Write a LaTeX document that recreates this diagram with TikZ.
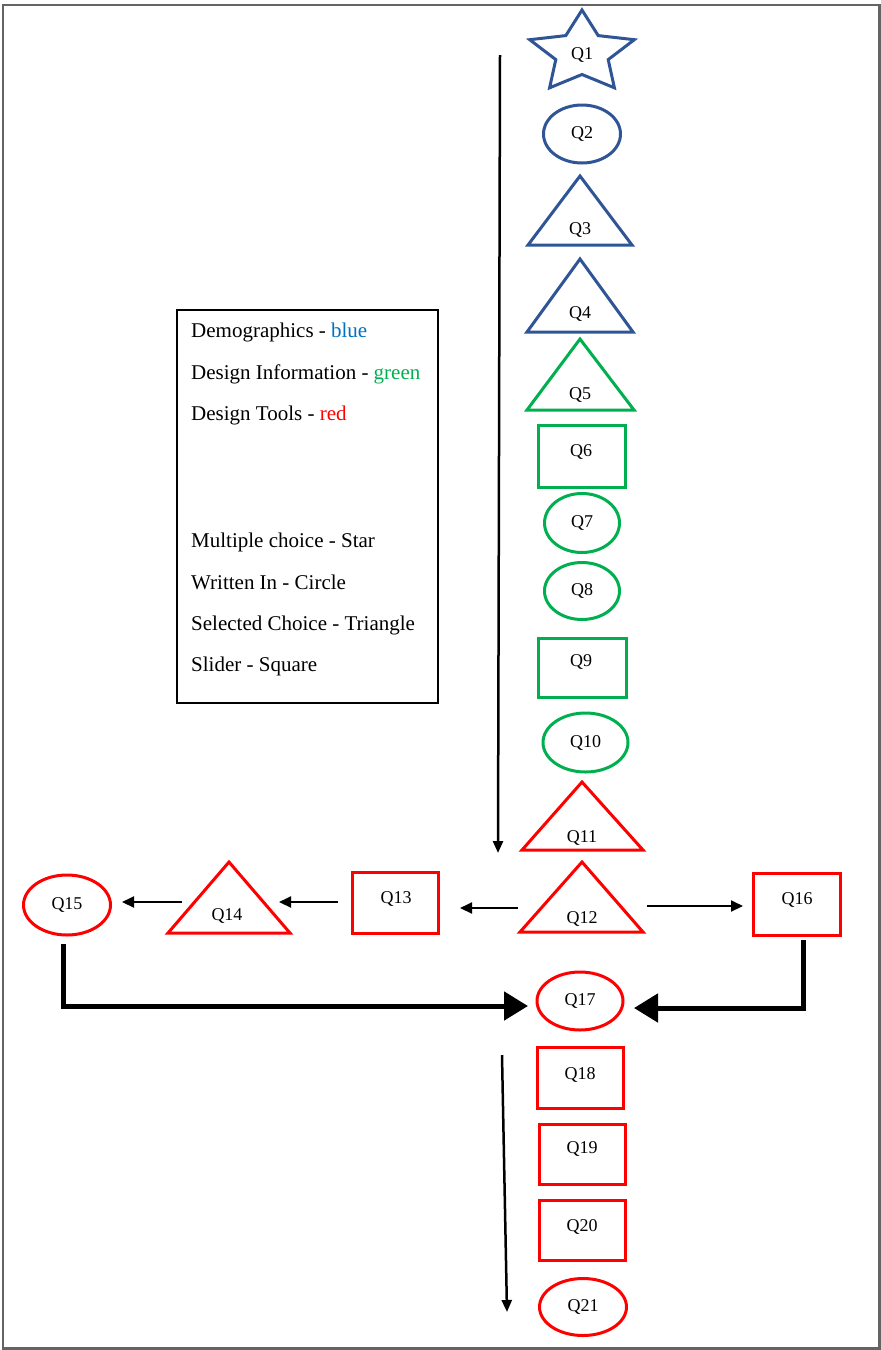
\documentclass[tikz,border=0pt]{standalone}
\usepackage{fontspec}
\setmainfont{Liberation Serif}
\usetikzlibrary{arrows.meta,shapes.geometric}
\definecolor{dblue}{RGB}{47,85,151}
\definecolor{tblue}{RGB}{0,112,192}
\definecolor{dgreen}{RGB}{0,176,80}
\definecolor{dred}{RGB}{255,0,0}
\definecolor{frame}{RGB}{100,100,100}
\begin{document}
\begin{tikzpicture}[x=1pt,y=-1pt,
  qlab/.style={font=\fontsize{18}{20}\selectfont, inner sep=0pt, anchor=base},
  shp/.style={line width=3pt},
  qell/.style={ellipse, draw, line width=3pt, inner sep=0pt, font=\fontsize{18}{20}\selectfont},
  qbox/.style={rectangle, draw, line width=3pt, inner sep=0pt},
  leg/.style={font=\fontsize{21}{24}\selectfont, inner sep=0pt, anchor=base west},
  arr/.style={line width=2pt, -{Triangle[length=12pt,width=11pt]}},
  varr/.style={line width=2.5pt, -{Triangle[length=12pt,width=10pt]}},
  barr/.style={line width=5pt, -{Triangle[length=24pt,width=28pt]}}
]
\useasboundingbox (0,0) rectangle (881,1350);
\fill[white] (0,0) rectangle (881,1350);
\draw[frame, line width=2.5pt] (3,5) rectangle (879.5,1348.5);

% legend
\node[draw, line width=2pt, minimum width=261pt, minimum height=393pt, inner sep=0pt] (legend) at (307.5,506.5) {};
\node[leg] (L1) at (191,337) {Demographics - \textcolor{tblue}{blue}};
\node[leg] (L2) at (191,379) {Design Information - \textcolor{dgreen}{green}};
\node[leg] (L3) at (191,420) {Design Tools - \textcolor{dred}{red}};
\node[leg] (L4) at (191,547) {Multiple choice - Star};
\node[leg] (L5) at (191,589) {Written In - Circle};
\node[leg] (L6) at (191,630) {Selected Choice - Triangle};
\node[leg] (L7) at (191,671) {Slider - Square};

% Q1 star
\draw[shp, dblue] (582,10) -- (565.8,35.6) -- (529.7,39.7) -- (555.8,59.6) -- (549.6,87.8)
  -- (582,74.5) -- (614.4,87.8) -- (608.2,59.6) -- (634.3,39.7) -- (598.2,35.6) -- cycle;
\node[qlab] (Q1) at (582,59) {Q1};

% blue
\node[qell, dblue, minimum width=77pt, minimum height=58pt, text=black] (Q2) at (582,134) {Q2};
\draw[shp, dblue] (528,245) -- (580,176) -- (632,245) -- cycle;
\node[qlab] (Q3) at (580,234) {Q3};
\draw[shp, dblue] (527,332) -- (580,259) -- (633,332) -- cycle;
\node[qlab] (Q4) at (580,318) {Q4};

% green
\draw[shp, dgreen] (527,410) -- (580,339) -- (634,410) -- cycle;
\node[qlab] (Q5) at (580,399) {Q5};
\node[qbox, dgreen, minimum width=87pt, minimum height=62pt] (Q6box) at (581.5,456) {};
\node[qlab] (Q6) at (581,456) {Q6};
\node[qell, dgreen, minimum width=75pt, minimum height=59pt, text=black] (Q7) at (582,523) {Q7};
\node[qell, dgreen, minimum width=75pt, minimum height=57pt, text=black] (Q8) at (582,591) {Q8};
\node[qbox, dgreen, minimum width=88pt, minimum height=59pt] (Q9box) at (582,667.5) {};
\node[qlab] (Q9) at (581,666) {Q9};
\node[qell, dgreen, minimum width=85pt, minimum height=59pt, text=black] (Q10) at (585.5,742.5) {Q10};

% red
\draw[shp, dred] (522,850) -- (582,782) -- (643,850) -- cycle;
\node[qlab] (Q11) at (582,842) {Q11};
\draw[shp, dred] (520,932) -- (582,862) -- (643,932) -- cycle;
\node[qlab] (Q12) at (582,923) {Q12};
\node[qbox, dred, minimum width=86pt, minimum height=61pt] (Q13box) at (395,902.5) {};
\node[qlab] (Q13) at (396,903) {Q13};
\draw[shp, dred] (168,933) -- (229,862) -- (290,933) -- cycle;
\node[qlab] (Q14) at (227,920) {Q14};
\node[qell, dred, minimum width=87pt, minimum height=60pt, text=black] (Q15) at (67,905) {Q15};
\node[qbox, dred, minimum width=87pt, minimum height=62pt] (Q16box) at (796.5,904) {};
\node[qlab] (Q16) at (797,904) {Q16};
\node[qell, dred, minimum width=86pt, minimum height=58pt, text=black] (Q17) at (580,1001) {Q17};
\node[qbox, dred, minimum width=86pt, minimum height=61pt] (Q18box) at (580,1077.5) {};
\node[qlab] (Q18) at (580,1079) {Q18};
\node[qbox, dred, minimum width=86pt, minimum height=60pt] (Q19box) at (582,1154) {};
\node[qlab] (Q19) at (582,1153) {Q19};
\node[qbox, dred, minimum width=86pt, minimum height=60pt] (Q20box) at (582,1230) {};
\node[qlab] (Q20) at (582,1231) {Q20};
\node[qell, dred, minimum width=87pt, minimum height=57pt, text=black] (Q21) at (583,1307) {Q21};

% connector end points
\coordinate (a1s) at (500,55);
\coordinate (a1e) at (498,853);
\coordinate (a2s) at (502,1055);
\coordinate (a2e) at (507,1312);
\coordinate (c12l) at (518,908);
\coordinate (c13r) at (460,908);
\coordinate (c13l) at (338,902);
\coordinate (c14r) at (279,902);
\coordinate (c14l) at (182,902);
\coordinate (c15r) at (122,902);
\coordinate (c12r) at (647,906);
\coordinate (c16l) at (743,906);
\coordinate (c15b) at (63,944);
\coordinate (c17l) at (528,1006);
\coordinate (c16b) at (803,940);
\coordinate (c17r) at (634,1008);

% connectors
\draw[varr] (a1s) -- (a1e);
\draw[varr] (a2s) -- (a2e);
\draw[arr] (c12l) -- (c13r);
\draw[arr] (c13l) -- (c14r);
\draw[arr] (c14l) -- (c15r);
\draw[arr] (c12r) -- (c16l);
\draw[barr] (c15b) |- (c17l);
\draw[barr] (c16b) |- (c17r);
\end{tikzpicture}
\end{document}
